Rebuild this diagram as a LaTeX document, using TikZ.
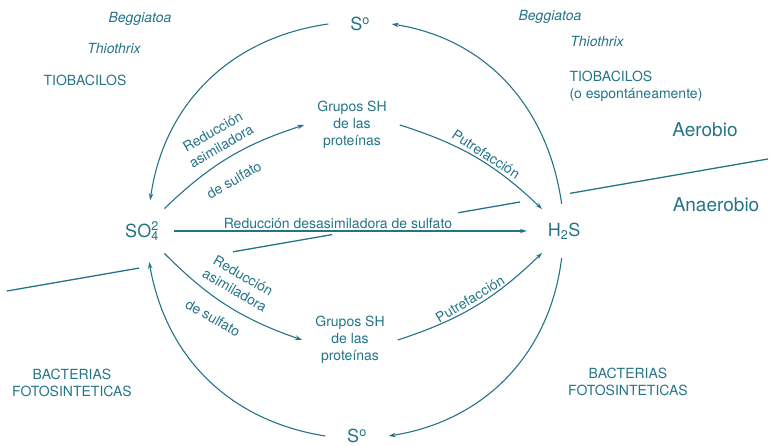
\documentclass[tikz,border=0pt]{standalone}
\usepackage{fontspec}
\setmainfont{TeX Gyre Heros}
\usetikzlibrary{arrows.meta,shapes.geometric,positioning,calc}
\definecolor{ciclo}{RGB}{36,116,136}

\begin{document}
\begin{tikzpicture}[
    x=1pt, y=1pt,
    every node/.style={text=ciclo, font=\fontsize{14}{17}\selectfont},
    lbl/.style={align=center, inner sep=1pt},
    org/.style={font=\fontsize{14}{17}\selectfont\itshape},
    comp/.style={circle, minimum size=63pt, inner sep=0pt,
                 font=\fontsize{18}{20}\selectfont},
    compe/.style={ellipse, minimum width=74pt, minimum height=54pt,
                  inner sep=0pt, font=\fontsize{18}{20}\selectfont},
    grupo/.style={align=center, inner xsep=13pt, inner ysep=2pt},
    zona/.style={font=\fontsize{19}{22}\selectfont},
    arr/.style={-{Stealth[length=7pt,width=4.5pt]}, line width=1.1pt, draw=ciclo},
    limite/.style={line width=1.3pt, draw=ciclo},
]
\useasboundingbox (0,0) rectangle (770,446);

% Compounds
\node[comp]  (stop) at (360,422) {S\textsuperscript{o}};
\node[comp]  (sbot) at (357,10)  {S\textsuperscript{o}};
\node[comp]  (so4)  at (142,215) {SO\rlap{\textsuperscript{2}}\textsubscript{4}};
\node[compe] (h2s)  at (564,215) {H\textsubscript{2}S};
\node[grupo] (gsh1) at (352,321) {Grupos SH\\de las\\proteínas};
\node[grupo] (gsh2) at (350,106) {Grupos SH\\de las\\proteínas};

% Organisms
\node[org] (begl) at (140,427) {Beggiatoa};
\node[org] (thil) at (114,397) {Thiothrix};
\node      (tiol) at (85,366)  {TIOBACILOS};
\node[org] (begr) at (550,429) {Beggiatoa};
\node[org] (thir) at (597,404) {Thiothrix};
\node[align=left, anchor=west] (tior) at (566,360)
  {TIOBACILOS\\(o espontáneamente)};
\node[align=center] (bacl) at (72,63)  {BACTERIAS\\FOTOSINTETICAS};
\node[align=center] (bacr) at (628,64) {BACTERIAS\\FOTOSINTETICAS};

% Aerobic / anaerobic boundary
\node[zona] (aer)  at (705,316) {Aerobio};
\node[zona] (anae) at (716,241) {Anaerobio};
\coordinate (bl) at (7,155);
\coordinate (br) at (768,287);
\foreach \a/\b in {0/0.1735, 0.297/0.427, 0.593/0.674, 0.740/1}
  \draw[limite] ($(bl)!\a!(br)$) -- ($(bl)!\b!(br)$);

% Outer cycle
\draw[arr] (stop.180) to[out=188, in=82]  (so4.75);
\draw[arr] (h2s.95)   to[out=98,  in=-9]  (stop.0);
\draw[arr] (h2s.-95)  to[out=-97, in=9]   (sbot.0);
\draw[arr] (sbot.180) to[out=171, in=-80] (so4.-77);

% Inner arrows
\draw[arr] (so4.45)  to[bend left=13]  (gsh1.west);
\draw[arr] (so4.-45) to[bend right=13] (gsh2.west);
\draw[arr] (gsh1.east) to[bend left=13]  (h2s.135);
\draw[arr] (gsh2.east) to[bend right=13] (h2s.-135);
\draw[arr] (so4.0) -- node[lbl, pos=0.465, above=1pt]
  {Reducción desasimiladora de sulfato} (h2s.180);

% Arrow labels
\node[lbl, rotate=30]  (ra1) at (217,307) {Reducción\\asimiladora};
\node[lbl, rotate=30]  (rs1) at (234,266) {de sulfato};
\node[lbl, rotate=-30] (ra2) at (239,163) {Reducción\\asimiladora};
\node[lbl, rotate=-30] (rs2) at (213,128) {de sulfato};
\node[lbl, rotate=-33] (pu1) at (486,292) {Putrefacción};
\node[lbl, rotate=31]  (pu2) at (470,147) {Putrefacción};

\end{tikzpicture}
\end{document}
